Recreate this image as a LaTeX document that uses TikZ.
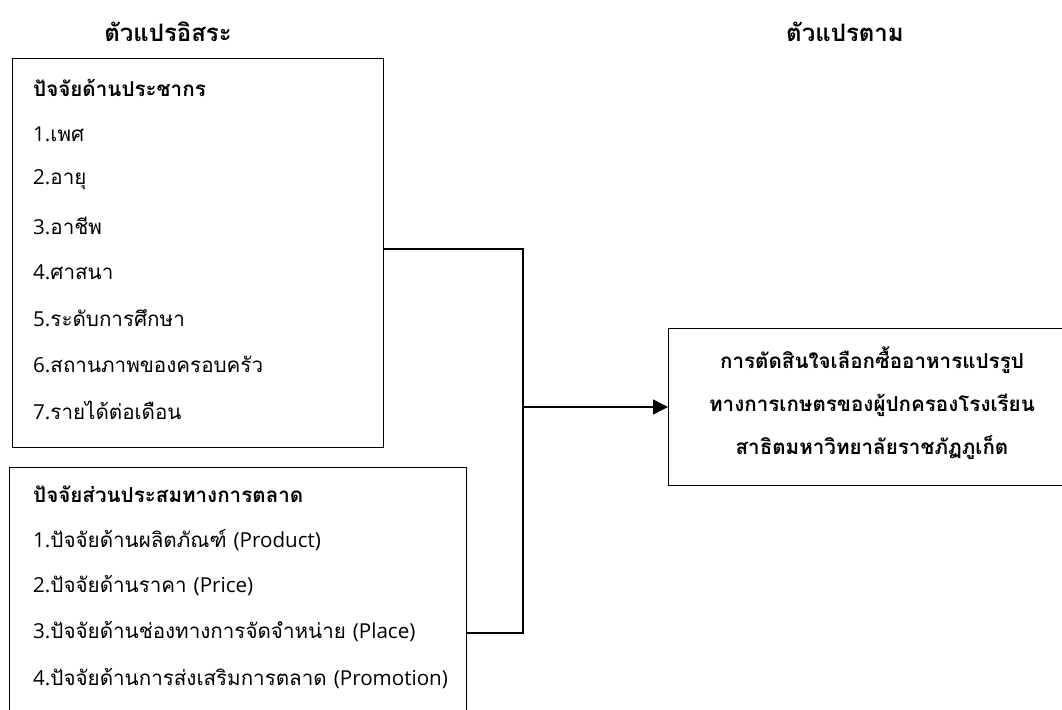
\documentclass[tikz,border=0pt]{standalone}
\usepackage{fontspec}
\setmainfont[Script=Thai]{Loma}
\newfontfamily\lat{Open Sans}
\usetikzlibrary{arrows.meta}
\begin{document}
\begin{tikzpicture}[x=1pt,y=-1pt,
  box/.style={draw, line width=1.4pt, inner sep=0pt, anchor=north west},
  item/.style={anchor=west, inner sep=0pt, font=\fontsize{20.6}{24}\selectfont},
  head/.style={anchor=west, inner sep=0pt, font=\bfseries\fontsize{20.6}{24}\selectfont},
  title/.style={inner sep=0pt, font=\bfseries\fontsize{24}{28}\selectfont},
  conn/.style={line width=1.4pt},
  arr/.style={line width=1.4pt, -{Triangle[length=15pt,width=15pt]}}]
\useasboundingbox (0,0) rectangle (1062,709);
% titles
\node[title] (t1) at (168,32) {ตัวแปรอิสระ};
\node[title] (t2) at (845,32) {ตัวแปรตาม};
% box 1
\node[box, minimum width=371pt, minimum height=389pt] (b1) at (12,58) {};
\node[head] (h1) at (33,88) {ปัจจัยด้านประชากร};
\node[item] (a1) at (33,134) {{\lat 1.}เพศ};
\node[item] (a2) at (33,180) {{\lat 2.}อายุ};
\node[item] (a3) at (33,226) {{\lat 3.}อาชีพ};
\node[item] (a4) at (33,272) {{\lat 4.}ศาสนา};
\node[item] (a5) at (33,318) {{\lat 5.}ระดับการศึกษา};
\node[item] (a6) at (33,364) {{\lat 6.}สถานภาพของครอบครัว};
\node[item] (a7) at (33,410) {{\lat 7.}รายได้ต่อเดือน};
% box 2
\node[box, minimum width=457pt, minimum height=260pt] (b2) at (9,467) {};
\node[head] (h2) at (33,494) {ปัจจัยส่วนประสมทางการตลาด};
\node[item] (c1) at (33,540) {{\lat 1.}ปัจจัยด้านผลิตภัณฑ์ {\lat (Product)}};
\node[item] (c2) at (33,586) {{\lat 2.}ปัจจัยด้านราคา {\lat (Price)}};
\node[item] (c3) at (33,632) {{\lat 3.}ปัจจัยด้านช่องทางการจัดจำหน่าย {\lat (Place)}};
\node[item] (c4) at (33,679) {{\lat 4.}ปัจจัยด้านการส่งเสริมการตลาด {\lat (Promotion)}};
% right box
\node[box, minimum width=410pt, minimum height=157pt] (b3) at (668,328) {};
\node[anchor=center, align=center, inner sep=0pt, font=\bfseries\fontsize{20.6}{43}\selectfont] (r) at (872,403)
  {การตัดสินใจเลือกซื้ออาหารแปรรูป\\ทางการเกษตรของผู้ปกครองโรงเรียน\\สาธิตมหาวิทยาลัยราชภัฏภูเก็ต};
% connectors
\coordinate (j1) at (523,249);
\coordinate (j2) at (523,633);
\coordinate (jm) at (523,407);
\draw[conn] (b1.east |- j1) -- (j1) -- (j2) -- (b2.east |- j2);
\draw[arr] (jm) -- (b3.west |- jm);
\end{tikzpicture}
\end{document}
